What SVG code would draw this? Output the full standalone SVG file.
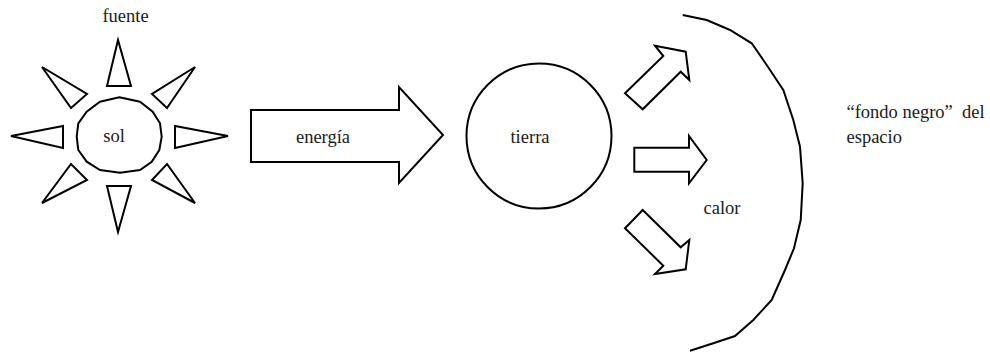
<svg xmlns="http://www.w3.org/2000/svg" width="990" height="352" viewBox="0 0 990 352">
  <style>
    .shape { fill: #ffffff; stroke: #000000; stroke-width: 2; stroke-linejoin: miter; }
    .line { fill: none; stroke: #000000; stroke-width: 2; }
    .label { font-family: "Liberation Serif", "Times New Roman", serif; font-size: 18.5px; fill: #1a1a1a; }
  </style>
  <rect width="990" height="352" fill="#ffffff"/>

  <!-- Sun with its eight rays -->
  <g id="sol">
    <g id="rays">
      <polygon class="shape" points="118,40 107,86 131,86"/>
      <polygon class="shape" points="118,232 107,186 131,186"/>
      <polygon class="shape" points="11,136 63,126 63,148"/>
      <polygon class="shape" points="228,136 175,126 175,148"/>
      <polygon class="shape" points="42,67 71,108 87,94"/>
      <polygon class="shape" points="195,67 152,94 167,108"/>
      <polygon class="shape" points="42,203 71,164 87,180"/>
      <polygon class="shape" points="195,203 152,180 167,164"/>
    </g>
    <polygon class="shape" points="119.3,97.3 140,101.7 152.7,111.7 160,123.3 161.7,136.7 159.3,150 151.7,161.7 140,170 120,172.7 100,170 86.7,161.7 78.3,150 76.7,136.7 78.3,123.3 86.7,111.7 100,101.7"/>
    <text class="label" x="114" y="142" text-anchor="middle">sol</text>
  </g>
  <text id="fuente" class="label" x="125.5" y="22" text-anchor="middle">fuente</text>

  <!-- Earth -->
  <g id="tierra">
    <circle class="shape" cx="539" cy="136" r="72.5"/>
    <text class="label" x="530" y="143" text-anchor="middle">tierra</text>
  </g>

  <!-- Black background of space -->
  <g id="espacio">
    <polyline class="line" points="682.7,15 706.7,20 730,30 751.7,43.3 766.7,65 783.3,90 793.3,120 800,146.7 802.7,183.3 800.7,220 794,248.3 785,270 771.7,300 753.3,320 735,336 713.3,343.3 690,350.7"/>
    <text class="label" x="846.5" y="118" xml:space="preserve">“fondo negro”  del</text>
    <text class="label" x="846.5" y="143">espacio</text>
  </g>

  <!-- Energy and heat arrows -->
  <g id="connectors">
    <g id="energia">
      <polygon class="shape" points="251,110 399,110 399,87 443,135 399,183 399,162 251,162"/>
      <text class="label" x="323" y="143" text-anchor="middle">energía</text>
    </g>
    <g id="calor">
      <polygon class="shape" points="625,93.3 663.3,56 655,45.7 685.7,51.7 689.3,80 680.7,71.7 642.7,109.3"/>
      <polygon class="shape" points="634.3,147.7 689,147.7 689,136 706.7,160 689,183.3 689,171.7 634.3,171.7"/>
      <polygon class="shape" points="625,228.3 642.7,210 680.7,247.3 689.3,240 685.7,269.3 655,274 663.3,265.7"/>
      <text class="label" x="722" y="214" text-anchor="middle">calor</text>
    </g>
  </g>
</svg>
